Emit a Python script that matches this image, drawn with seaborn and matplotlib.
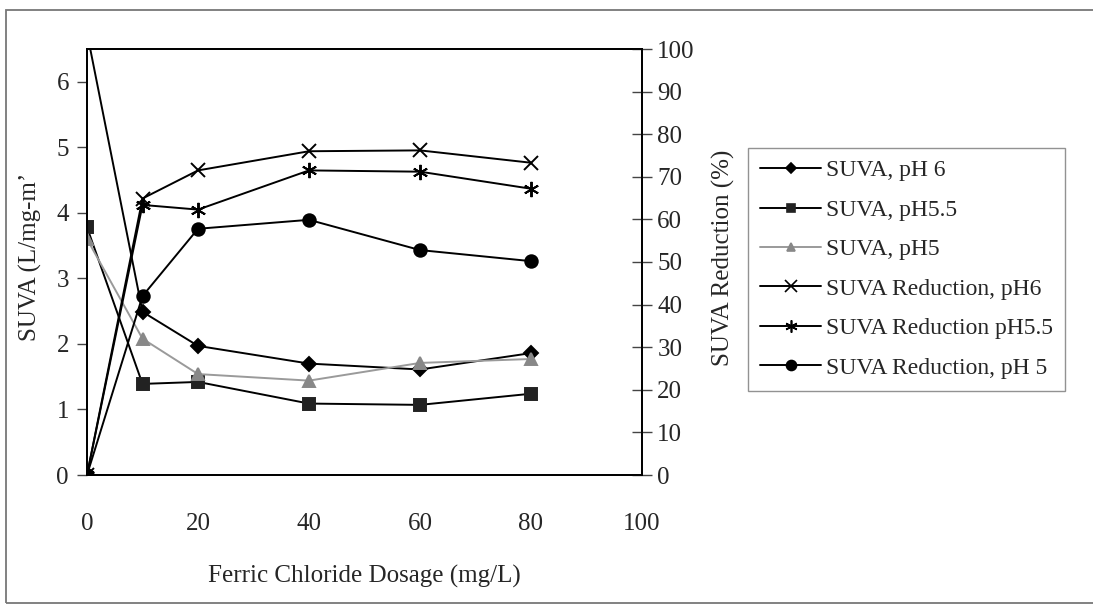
import numpy as np
import pandas as pd
import matplotlib
matplotlib.use("Agg")
import matplotlib.pyplot as plt
from matplotlib.patches import Rectangle
from matplotlib.lines import Line2D
import seaborn as sns

# Ferric chloride dosage (mg/L)
dosage = [0, 10, 20, 40, 60, 80]

# SUVA (L/mg-m) at each coagulation pH
suva_ph6 = [6.75, 2.49, 1.97, 1.70, 1.61, 1.86]
suva_ph55 = [3.78, 1.39, 1.42, 1.09, 1.07, 1.24]
suva_ph5 = [3.60, 2.08, 1.54, 1.44, 1.71, 1.77]

# SUVA reduction (%) at each coagulation pH
red_ph6 = [0, 64.9, 71.5, 76.0, 76.2, 73.3]
red_ph55 = [0, 63.4, 62.3, 71.5, 71.2, 67.2]
red_ph5 = [0, 42.0, 57.8, 59.9, 52.8, 50.2]

labels = ["SUVA, pH 6", "SUVA, pH5.5", "SUVA, pH5",
          "SUVA Reduction, pH6", "SUVA Reduction pH5.5", "SUVA Reduction, pH 5"]

sns.set_style("white")
plt.rcParams["font.family"] = ["Liberation Serif", "DejaVu Serif"]
plt.rcParams["axes.linewidth"] = 1.3

fig = plt.figure(figsize=(10.93, 6.07), dpi=100)
ax = fig.add_axes([87 / 1093, 1 - 475 / 607, (642 - 87) / 1093, (475 - 49) / 607])
ax2 = ax.twinx()

df = pd.DataFrame({"dosage": dosage,
                   "s6": suva_ph6, "s55": suva_ph55, "s5": suva_ph5,
                   "r6": red_ph6, "r55": red_ph55, "r5": red_ph5})

gray = "#9a9a9a"
styles = [
    (ax, "s6", "black", "black", "D", 7),
    (ax, "s55", "black", "#222222", "s", 8),
    (ax, "s5", gray, "#888888", "^", 8),
    (ax2, "r6", "black", "black", "x", 10),
    (ax2, "r55", "black", "black", (6, 2, 0), 11),
    (ax2, "r5", "black", "black", "o", 9),
]

handles = []
for (a, col, lc, mc, mk, ms), lab in zip(styles, labels):
    sns.lineplot(data=df, x="dosage", y=col, ax=a, color=lc, linewidth=1.4,
                 marker=mk, markersize=ms, markerfacecolor=mc,
                 markeredgecolor=mc, markeredgewidth=1.4, legend=False)
    handles.append(Line2D([], [], color=lc, linewidth=1.4, marker=mk,
                          markersize=ms * 0.8, markerfacecolor=mc,
                          markeredgecolor=mc, markeredgewidth=1.2))

ax.set_xlim(0, 100)
ax.set_ylim(0, 6.5)
ax2.set_ylim(0, 100)
ax.set_xticks(np.arange(0, 101, 20))
ax.set_yticks(np.arange(0, 7, 1))
ax2.set_yticks(np.arange(0, 101, 10))

ax.tick_params(axis="both", which="both", direction="out", length=7,
               width=1.0, labelsize=18, pad=6, color="#444444")
ax.tick_params(axis="x", pad=20)
ax2.tick_params(axis="y", direction="inout", length=14, width=1.0,
                labelsize=18, pad=4, color="#444444")

for a in (ax, ax2):
    for s in a.spines.values():
        s.set_visible(True)
        s.set_color("black")
        s.set_linewidth(1.3)

ax.set_xlabel("Ferric Chloride Dosage (mg/L)", fontsize=18, labelpad=22)
ax.set_ylabel("")
ax2.set_ylabel("")
fig.text(30 / 1093, 1 - 257 / 607, "SUVA (L/mg-m\u2019", rotation=90,
         fontsize=18, ha="center", va="center")
fig.text(723 / 1093, 1 - 258 / 607, "SUVA Reduction (%)", rotation=90,
         fontsize=18, ha="center", va="center")

leg = fig.legend(handles, labels, loc="upper left",
                 bbox_to_anchor=(748 / 1093, 1 - 148 / 607),
                 bbox_transform=fig.transFigure, borderaxespad=0,
                 fontsize=17, frameon=True, fancybox=False, edgecolor="#777777",
                 handlelength=2.6, handletextpad=0.2, labelspacing=0.76,
                 borderpad=0.5)
leg.get_frame().set_linewidth(1.0)

# outer chart border
fig.patches.append(Rectangle((6 / 1093, 1 - 603 / 607), 1.2, (603 - 10) / 607,
                             transform=fig.transFigure, fill=False,
                             edgecolor="#777777", linewidth=1.3))

fig.savefig("out.png", dpi=100)
